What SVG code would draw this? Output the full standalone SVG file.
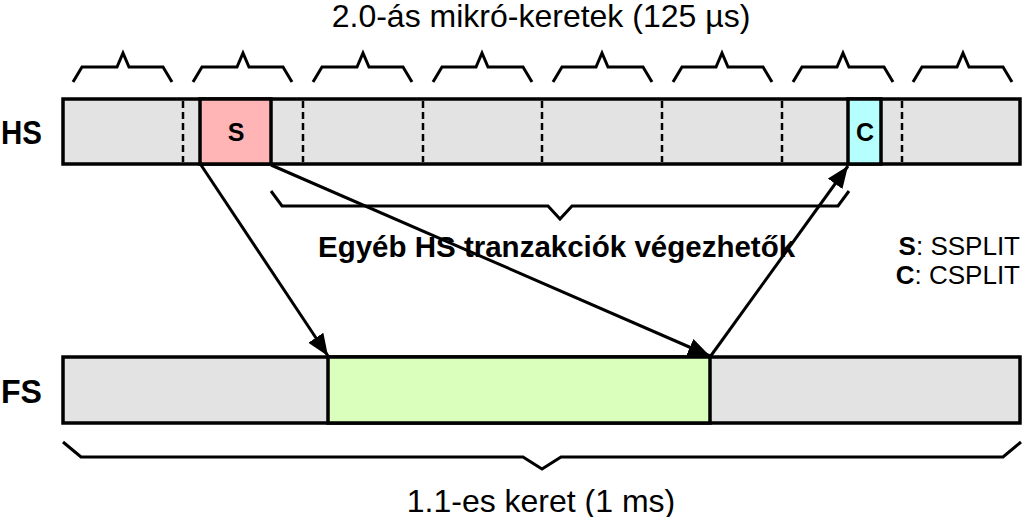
<svg xmlns="http://www.w3.org/2000/svg" width="1023" height="517" viewBox="0 0 1023 517">
<style>
.bar{stroke:#000;stroke-width:3.5}
.dash{stroke:#000;stroke-width:2.5;stroke-dasharray:7,4;fill:none}
.brace{fill:none;stroke:#000;stroke-width:3;stroke-linejoin:miter}
.arr{stroke:#000;stroke-width:3;fill:none;marker-end:url(#ah)}
.t{font-family:"Liberation Sans",Arial,sans-serif;fill:#000}
.b{font-weight:bold}
</style>
<defs>
<marker id="ah" markerUnits="userSpaceOnUse" markerWidth="24" markerHeight="20" refX="22" refY="9" orient="auto">
<path d="M0,0 L22,9 L0,18 Z" fill="#000"/>
</marker>
</defs>
<rect width="1023" height="517" fill="#fff"/>
<text class="t" x="541" y="27" font-size="32" text-anchor="middle">2.0-ás mikró-keretek (125 µs)</text>
<g id="top-braces">
<path class="brace" d="M73,82 L82,67 L117,67 L123,53 L129,67 L163,67 L172,82"/>
<path class="brace" d="M193,82 L202,67 L237,67 L243,53 L249,67 L283,67 L292,82"/>
<path class="brace" d="M313,82 L322,67 L357,67 L363,53 L369,67 L403,67 L412,82"/>
<path class="brace" d="M433,82 L442,67 L476,67 L482,53 L488,67 L523,67 L532,82"/>
<path class="brace" d="M553,82 L562,67 L596,67 L602,53 L608,67 L643,67 L652,82"/>
<path class="brace" d="M673,82 L682,67 L716,67 L722,53 L728,67 L763,67 L772,82"/>
<path class="brace" d="M793,82 L802,67 L837,67 L843,53 L849,67 L884,67 L893,82"/>
<path class="brace" d="M913,82 L922,67 L957,67 L963,53 L969,67 L1003,67 L1012,82"/>
</g>
<g id="hs">
<text class="t b" x="1" y="144" font-size="34" textLength="41" lengthAdjust="spacingAndGlyphs">HS</text>
<rect class="bar" x="63" y="99" width="957" height="65" fill="#e3e3e3"/>
<line class="dash" x1="183" y1="101" x2="183" y2="162"/>
<line class="dash" x1="303" y1="101" x2="303" y2="162"/>
<line class="dash" x1="423" y1="101" x2="423" y2="162"/>
<line class="dash" x1="542" y1="101" x2="542" y2="162"/>
<line class="dash" x1="662" y1="101" x2="662" y2="162"/>
<line class="dash" x1="782" y1="101" x2="782" y2="162"/>
<line class="dash" x1="902" y1="101" x2="902" y2="162"/>
</g>
<g id="s-box">
<rect class="bar" x="200" y="99" width="71" height="65" fill="#ffb5b5" stroke-width="2.5"/>
<text class="t b" x="236" y="141" font-size="25" text-anchor="middle">S</text>
</g>
<g id="c-box">
<rect class="bar" x="848" y="99" width="33" height="65" fill="#b5ffff" stroke-width="2.5"/>
<text class="t b" x="865" y="141" font-size="25" text-anchor="middle">C</text>
</g>
<g id="fs">
<text class="t b" x="1" y="403" font-size="34" textLength="41" lengthAdjust="spacingAndGlyphs">FS</text>
<rect class="bar" x="63" y="357" width="957" height="66" fill="#e3e3e3"/>
</g>
<g id="fs-busy">
<rect class="bar" x="328" y="357" width="382" height="66" fill="#daffbd" stroke-width="2.5"/>
</g>
<g id="mid-brace">
<path class="brace" d="M271,191 L282,206 L548,206 L560,219 L572,206 L838,206 L849,191"/>
<text class="t b" x="318" y="257" font-size="29.5">Egyéb HS tranzakciók végezhetők</text>
</g>
<g id="legend">
<text class="t" x="1020" y="255" font-size="26" text-anchor="end"><tspan class="b">S</tspan>: SSPLIT</text>
<text class="t" x="1020" y="284" font-size="26" text-anchor="end"><tspan class="b">C</tspan>: CSPLIT</text>
</g>
<g id="bottom-brace">
<path class="brace" d="M63,442 L81,457 L523,457 L542,469 L561,457 L1003,457 L1021,442"/>
<text class="t" x="541" y="512" font-size="32" text-anchor="middle">1.1-es keret (1 ms)</text>
</g>
<g id="connectors">
<line class="arr" x1="201" y1="165" x2="328" y2="356"/>
<line class="arr" x1="271" y1="165" x2="710" y2="356"/>
<line class="arr" x1="710" y1="357" x2="848" y2="166"/>
</g>
</svg>
